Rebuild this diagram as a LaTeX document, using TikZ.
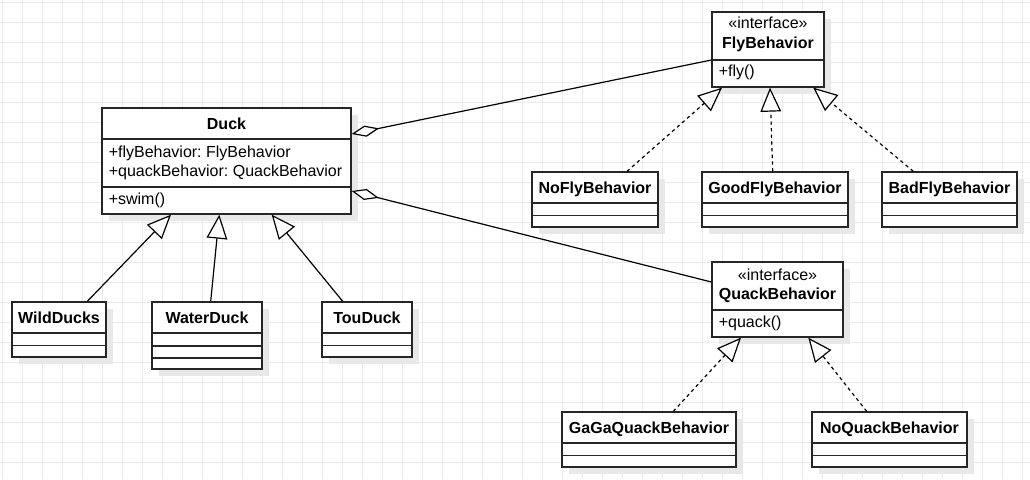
\documentclass[tikz,border=0pt]{standalone}
\usepackage{fontspec}
\setmainfont{Liberation Sans}
\usetikzlibrary{arrows.meta,fit,shadows}
\frenchspacing

\begin{document}
\begin{tikzpicture}[
    x=0.75pt, y=-0.75pt,
    every node/.style={font=\fontsize{12}{14}\selectfont, text=black},
    gridline/.style={draw=black!8, line width=0.75pt},
    cls/.style={draw=black!85, fill=white, line width=1pt, inner sep=0pt,
        drop shadow={shadow xshift=5.5pt, shadow yshift=-5.5pt, fill=black!9, opacity=1}},
    sep/.style={draw=black!85, line width=1pt},
    title/.style={anchor=base, inner sep=0pt, font=\fontsize{12}{14}\selectfont\bfseries},
    stereo/.style={anchor=base, inner sep=0pt},
    member/.style={anchor=base west, inner sep=0pt},
    gen/.style={draw, line width=0.9pt, -{Triangle[length=18pt, width=15.5pt, fill=white]}},
    real/.style={gen, dash pattern=on 2.5pt off 2.5pt},
    agg/.style={draw, line width=0.9pt, -{Diamond[length=21pt, width=8.5pt, fill=white]}}
]
    % background and grid
    \fill[white] (0,0) rectangle (1030,479);
    \useasboundingbox (0,0) rectangle (1030,479);
    \foreach \gx in {2,22,...,1022} \draw[gridline] (\gx,0) -- (\gx,479);
    \foreach \gy in {2,22,...,462} \draw[gridline] (0,\gy) -- (1030,\gy);

    % class boxes
    \node[cls, fit={(102,108) (351,214)}] (duck) {};
    \node[cls, fit={(12,302) (106,357)}] (wild) {};
    \node[cls, fit={(152,302) (262,369)}] (water) {};
    \node[cls, fit={(322,302) (412,357)}] (tou) {};
    \node[cls, fit={(712,12) (824,87)}] (fly) {};
    \node[cls, fit={(532,172) (658,227)}] (nofly) {};
    \node[cls, fit={(702,172) (848,227)}] (goodfly) {};
    \node[cls, fit={(882,172) (1017,227)}] (badfly) {};
    \node[cls, fit={(712,262) (843,337)}] (quack) {};
    \node[cls, fit={(562,412) (736,467)}] (gaga) {};
    \node[cls, fit={(812,412) (967,467)}] (noquack) {};

    % compartments
    \draw[sep] (duck.west |- 0,139) -- (duck.east |- 0,139);
    \draw[sep] (duck.west |- 0,187) -- (duck.east |- 0,187);
    \draw[sep] (fly.west |- 0,60) -- (fly.east |- 0,60);
    \draw[sep] (quack.west |- 0,310) -- (quack.east |- 0,310);
    \draw[sep] (water.west |- 0,333) -- (water.east |- 0,333);
    \draw[sep] (water.west |- 0,346) -- (water.east |- 0,346);
    \draw[sep] (water.west |- 0,358) -- (water.east |- 0,358);
    \foreach \n in {wild,tou} {
        \draw[sep] (\n.west |- 0,333) -- (\n.east |- 0,333);
        \draw[sep] (\n.west |- 0,345.5) -- (\n.east |- 0,345.5);
    }
    \foreach \n in {nofly,goodfly,badfly} {
        \draw[sep] (\n.west |- 0,203) -- (\n.east |- 0,203);
        \draw[sep] (\n.west |- 0,215.5) -- (\n.east |- 0,215.5);
    }
    \foreach \n in {gaga,noquack} {
        \draw[sep] (\n.west |- 0,443) -- (\n.east |- 0,443);
        \draw[sep] (\n.west |- 0,455.5) -- (\n.east |- 0,455.5);
    }

    % texts
    \node[title] (duckname) at (226.5,129.2) {Duck};
    \node[member] (duckfly) at (108.5,157.3) {+flyBehavior: FlyBehavior};
    \node[member] (duckquack) at (108.5,176) {+quackBehavior: QuackBehavior};
    \node[member] (duckswim) at (108.5,204) {+swim()};
    \node[title] (wildname) at (59,323.2) {WildDucks};
    \node[title] (watername) at (207,323.2) {WaterDuck};
    \node[title] (touname) at (367,323.2) {TouDuck};
    \node[stereo] (flystereo) at (768,28.3) {«interface»};
    \node[title] (flyname) at (768,48.3) {FlyBehavior};
    \node[member] (flyop) at (718.5,76) {+fly()};
    \node[title] (noflyname) at (595,193.2) {NoFlyBehavior};
    \node[title] (goodflyname) at (775,193.2) {GoodFlyBehavior};
    \node[title] (badflyname) at (949.5,193.2) {BadFlyBehavior};
    \node[stereo] (quackstereo) at (777.5,280) {«interface»};
    \node[title] (quackname) at (777.5,299.3) {QuackBehavior};
    \node[member] (quackop) at (718.5,327.7) {+quack()};
    \node[title] (gaganame) at (649,433.2) {GaGaQuackBehavior};
    \node[title] (noquackname) at (889.5,433.2) {NoQuackBehavior};

    % connectors
    \draw[gen] (wild.north -| 87.3,0) -- (duck.south -| 171,0);
    \draw[gen] (water.north -| 210.7,0) -- (duck.south -| 219.3,0);
    \draw[gen] (tou.north -| 342.7,0) -- (duck.south -| 271.7,0);
    \draw[real] (nofly.north -| 627,0) -- (fly.south -| 722,0);
    \draw[real] (goodfly.north -| 772.7,0) -- (fly.south -| 770,0);
    \draw[real] (badfly.north -| 913.3,0) -- (fly.south -| 813.3,0);
    \draw[real] (gaga.north -| 673.3,0) -- (quack.south -| 741,0);
    \draw[real] (noquack.north -| 866.7,0) -- (quack.south -| 808.3,0);
    \draw[agg] (fly.west |- 0,60) -- (duck.east |- 0,134);
    \draw[agg] (quack.west |- 0,282) -- (duck.east |- 0,191);
\end{tikzpicture}
\end{document}
